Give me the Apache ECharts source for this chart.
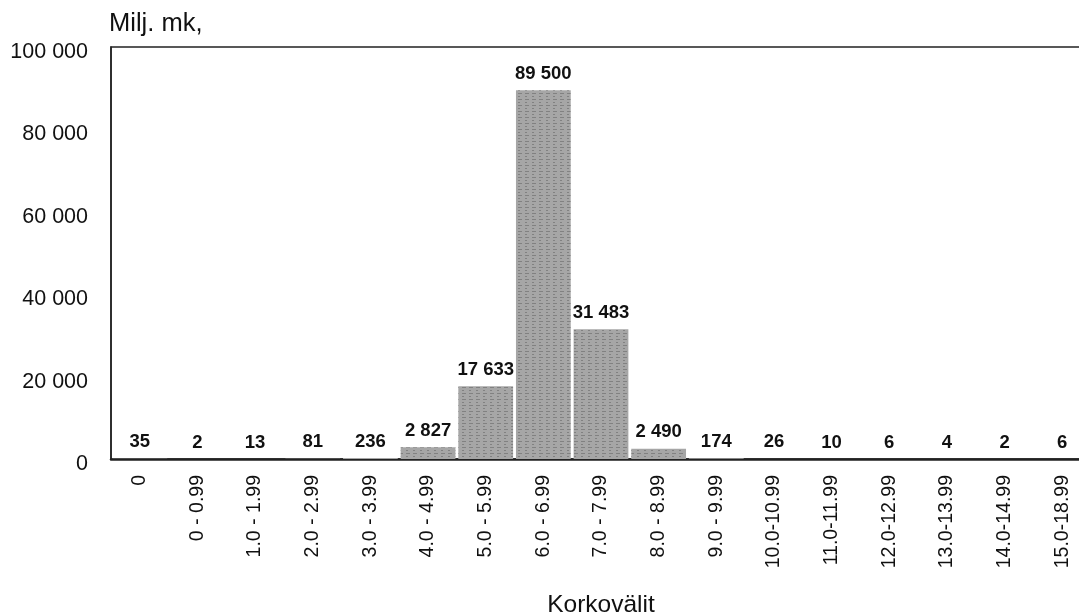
<!DOCTYPE html>
<html>
<head>
<meta charset="utf-8">
<script src="https://cdn.jsdelivr.net/npm/echarts@6/dist/echarts.min.js"></script>
<style>
html,body{margin:0;padding:0;background:#fff;overflow:hidden;}
#chart{width:1079px;height:614px;}
</style>
</head>
<body>
<div id="chart"></div>
<script>
var categories = ['0','0 - 0.99','1.0 - 1.99','2.0 - 2.99','3.0 - 3.99','4.0 - 4.99','5.0 - 5.99','6.0 - 6.99','7.0 - 7.99','8.0 - 8.99','9.0 - 9.99','10.0-10.99','11.0-11.99','12.0-12.99','13.0-13.99','14.0-14.99','15.0-18.99'];
var values = [35, 2, 13, 81, 236, 2827, 17633, 89500, 31483, 2490, 174, 26, 10, 6, 4, 2, 6];
var yTicks = [0, 20000, 40000, 60000, 80000, 100000];
var yTitle = 'Milj. mk,';
var xTitle = 'Korkovälit';

function fmt(v){
  return String(v).replace(/\B(?=(\d{3})+(?!\d))/g, ' ');
}

var chart = echarts.init(document.getElementById('chart'));
chart.setOption({
  animation: false,
  backgroundColor: '#fff',
  textStyle: {fontFamily: 'Liberation Sans, Arial, sans-serif'},
  title: {
    text: yTitle,
    left: 109, top: 11, padding: 0,
    textStyle: {fontSize: 25.5, fontWeight: 'normal', color: '#111', fontFamily: 'Liberation Sans, Arial, sans-serif'}
  },
  grid: {
    left: 111, top: 47, width: 980, height: 412,
    containLabel: false,
    outerBoundsMode: 'none',
    show: true, borderColor: '#222', borderWidth: 1.5, backgroundColor: 'transparent'
  },
  xAxis: {
    type: 'category',
    data: categories,
    name: xTitle,
    nameLocation: 'middle',
    nameGap: 134,
    nameTextStyle: {fontSize: 24.5, color: '#111', verticalAlign: 'top'},
    axisLine: {show: true, lineStyle: {color: '#222', width: 2.5}},
    axisTick: {show: false},
    axisLabel: {rotate: 90, fontSize: 19.5, color: '#111', margin: 16, interval: 0}
  },
  yAxis: {
    type: 'value',
    min: yTicks[0], max: yTicks[yTicks.length-1], interval: yTicks[1]-yTicks[0],
    axisLine: {show: true, lineStyle: {color: '#222', width: 1.5}},
    axisTick: {show: false},
    splitLine: {show: false},
    axisLabel: {fontSize: 21.5, color: '#111', margin: 23, formatter: fmt,
      verticalAlign: 'top', padding: [-6,0,0,0]}
  },
  series: [{
    type: 'bar',
    data: values,
    barCategoryGap: '5%',
    itemStyle: {
      color: '#a6a6a6',
      decal: {
        symbol: 'rect', symbolSize: 1,
        color: 'rgba(60,60,60,0.35)',
        dashArrayX: [[4,3],[2,5]],
        dashArrayY: [1,2],
        rotation: 0
      }
    },
    label: {
      show: true, position: 'top', distance: 7,
      fontSize: 18.5, fontWeight: 'bold', color: '#111',
      formatter: function(p){ return fmt(p.value); }
    }
  }]
});
</script>
</body>
</html>
